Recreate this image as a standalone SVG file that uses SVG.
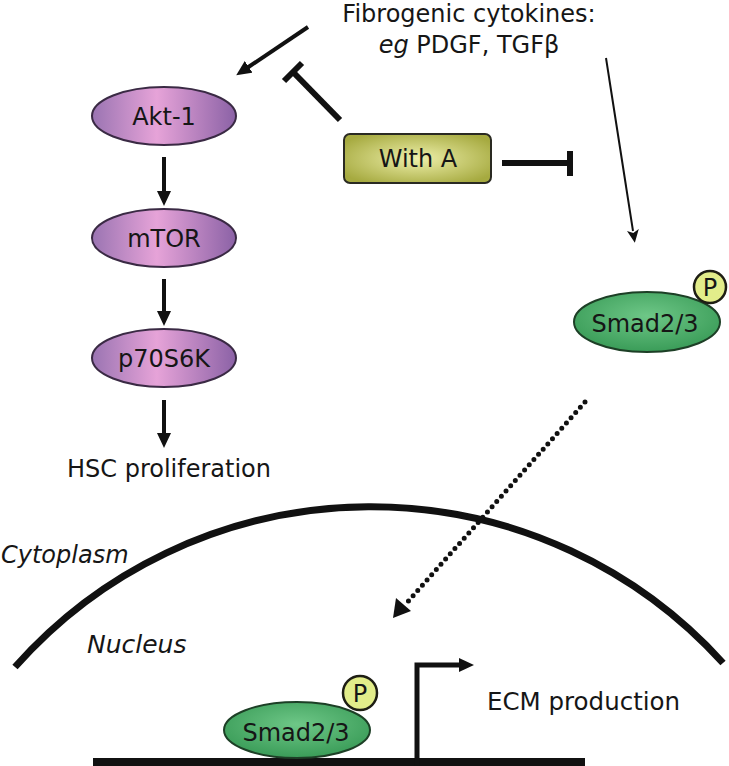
<svg xmlns="http://www.w3.org/2000/svg" width="729" height="766" viewBox="0 0 729 766">
<style>
text{font-family:"DejaVu Sans","Liberation Sans",sans-serif;fill:#161616;}
.lbl{font-size:24px;text-anchor:middle;}
.it{font-style:italic;}
.kin{stroke:#3a2a44;stroke-width:2;fill:url(#purp);}
.smad{stroke:#1d3f26;stroke-width:2;fill:url(#grn);}
.pho{stroke:#1e1e14;stroke-width:2.5;fill:#e2ed8a;}
.ln{stroke:#111;fill:none;}
</style>
<defs>
<linearGradient id="purp" x1="0" y1="0" x2="1" y2="0">
<stop offset="0" stop-color="#9a74b2"/>
<stop offset="0.45" stop-color="#e6a3d8"/>
<stop offset="1" stop-color="#8b62a6"/>
</linearGradient>
<radialGradient id="grn" cx="0.5" cy="0.4" r="0.6">
<stop offset="0" stop-color="#6ec787"/>
<stop offset="1" stop-color="#3a9c58"/>
</radialGradient>
<radialGradient id="ylw" cx="0.5" cy="0.5" r="0.6">
<stop offset="0" stop-color="#eef0aa"/>
<stop offset="1" stop-color="#a6aa40"/>
</radialGradient>
<marker id="ah" markerUnits="userSpaceOnUse" markerWidth="15" markerHeight="14" viewBox="0 0 15 14" refX="2" refY="7" orient="auto">
<path d="M0,0 L15,7 L0,14 z" fill="#111"/>
</marker>
<marker id="ahs" markerUnits="userSpaceOnUse" markerWidth="13" markerHeight="12" viewBox="0 0 13 12" refX="1" refY="6" orient="auto">
<path d="M0,0 L13,6 L0,12 L3,6 z" fill="#111"/>
</marker>
</defs>

<g id="cytokines-label">
<text class="lbl" x="469" y="22">Fibrogenic cytokines:</text>
<text class="lbl" x="469" y="53" font-size="23"><tspan class="it">eg</tspan> PDGF, TGFβ</text>
</g>

<g id="akt1">
<ellipse class="kin" cx="164" cy="116" rx="72" ry="29"/>
<text class="lbl" x="164" y="125">Akt-1</text>
</g>
<g id="mtor">
<ellipse class="kin" cx="164" cy="238" rx="72" ry="29"/>
<text class="lbl" x="164" y="247">mTOR</text>
</g>
<g id="p70s6k">
<ellipse class="kin" cx="164" cy="358" rx="72" ry="29"/>
<text class="lbl" x="164" y="367" font-size="25">p70S6K</text>
</g>
<g id="hsc-label">
<text class="lbl" x="169" y="477">HSC proliferation</text>
</g>

<g id="with-a">
<rect x="344" y="134" width="147" height="49" rx="6" fill="url(#ylw)" stroke="#2a2a22" stroke-width="2"/>
<text class="lbl" x="418" y="167">With A</text>
</g>

<g id="smad-cyto">
<ellipse class="smad" cx="647" cy="322" rx="73" ry="30"/>
<text class="lbl" x="645" y="332" font-size="26.5">Smad2/3</text>
<circle class="pho" cx="710" cy="287" r="16"/>
<text class="lbl" x="710" y="296" font-size="23">P</text>
</g>

<g id="membrane">
<path class="ln" stroke-width="7" d="M15,667 A475,475 0 0 1 723,663"/>
</g>
<g id="cytoplasm-label">
<text class="it" x="1" y="563" font-size="24">Cytoplasm</text>
</g>
<g id="nucleus-label">
<text class="it" x="87" y="653" font-size="25">Nucleus</text>
</g>

<g id="dna">
<rect x="93" y="758" width="492" height="10" fill="#111"/>
</g>

<g id="smad-nuc">
<ellipse class="smad" cx="297" cy="730" rx="73" ry="28"/>
<text class="lbl" x="296" y="741" font-size="26.5">Smad2/3</text>
<circle class="pho" cx="360" cy="693" r="17"/>
<text class="lbl" x="360" y="702" font-size="23">P</text>
</g>

<g id="ecm-label">
<text x="487" y="710" font-size="24.5">ECM production</text>
</g>

<g id="connectors">
<line class="ln" stroke-width="4" x1="308" y1="27" x2="247" y2="68" marker-end="url(#ah)"/>
<g class="ln" stroke-width="6">
<line x1="340" y1="120" x2="293" y2="72"/>
<line x1="284" y1="81" x2="302" y2="63"/>
<line x1="502" y1="163" x2="570" y2="163"/>
<line x1="570" y1="151" x2="570" y2="176"/>
</g>
<line class="ln" stroke-width="2" x1="606" y1="58" x2="633" y2="231" marker-end="url(#ahs)"/>
<line class="ln" stroke-width="4" x1="164" y1="157" x2="164" y2="193" marker-end="url(#ah)"/>
<line class="ln" stroke-width="4" x1="164" y1="279" x2="164" y2="313" marker-end="url(#ah)"/>
<line class="ln" stroke-width="4" x1="164" y1="400" x2="164" y2="435" marker-end="url(#ah)"/>
<line class="ln" stroke-width="5" stroke-linecap="round" stroke-dasharray="0 7" x1="585" y1="402" x2="404" y2="606"/>
<path fill="#111" d="M393,618 L396,598 L411,611 z"/>
<polyline class="ln" stroke-width="5" points="417,766 417,665 461,665" marker-end="url(#ah)"/>
</g>
</svg>
